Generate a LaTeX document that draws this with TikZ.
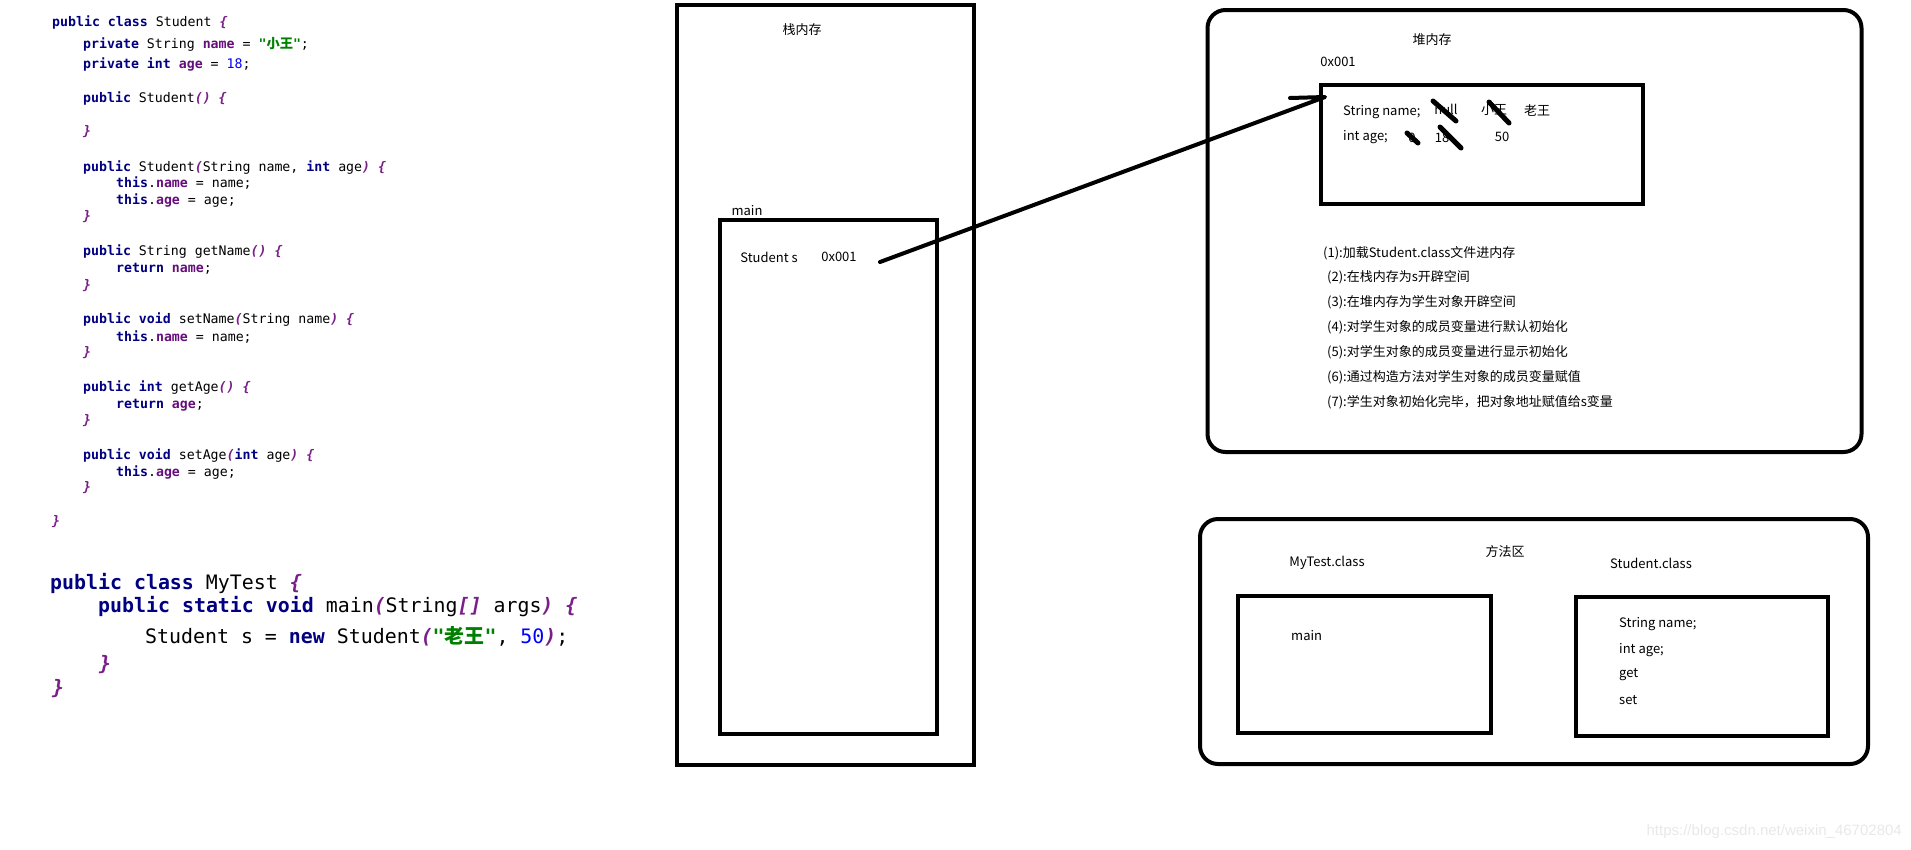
\documentclass[tikz,border=0pt]{standalone}
\usepackage{fontspec}
\setmainfont{Noto Sans CJK SC}
\newfontfamily\codefont{DejaVu Sans Mono}[Ligatures=TeXOff]
\newfontfamily\cjkfont{Noto Sans CJK SC}
\newfontfamily\wmfont{Liberation Sans}

\definecolor{kwblue}{HTML}{000080}
\definecolor{fieldpurple}{HTML}{660E7A}
\definecolor{strgreen}{HTML}{008000}
\definecolor{numblue}{HTML}{0000FF}
\definecolor{brkpurple}{HTML}{7A1F8A}
\definecolor{wmgray}{HTML}{E8E8E8}

\newcommand\kw[1]{{\color{kwblue}\bfseries #1}}
\newcommand\fd[1]{{\color{fieldpurple}\bfseries #1}}
\newcommand\jstr[1]{{\color{strgreen}\bfseries #1}}
\newcommand\jnum[1]{{\color{numblue}#1}}
\newcommand\jbr[1]{{\color{brkpurple}\bfseries\itshape #1}}

\begin{document}
\begin{tikzpicture}[x=1pt,y=-1pt,
	box/.style={draw,line width=4.5pt,inner sep=0pt,outer sep=0pt},
	area/.style={draw,line width=4pt,rounded corners=18pt,inner sep=0pt,outer sep=0pt},
	lbl/.style={font=\fontsize{13}{15}\selectfont,inner sep=0pt},
	codeS/.style={anchor=base west,inner sep=0pt,font=\codefont\fontsize{13.24}{15}\selectfont},
	codeL/.style={anchor=base west,inner sep=0pt,font=\codefont\fontsize{19.9}{22}\selectfont},
	wire/.style={line width=4pt,line cap=round,line join=round},
	strike/.style={line width=5pt,line cap=round}]
	\useasboundingbox (0,0) rectangle (1911,849);

	% Student.java
	\node[codeS] (c1) at (52,26.6) {\kw{public class} Student \jbr{\{}};
	\node[codeS] (c2) at (83,48.6) {\kw{private} String \fd{name} = \jstr{"{\cjkfont 小王}"};};
	\node[codeS] (c3) at (83,68.6) {\kw{private int} \fd{age} = \jnum{18};};
	\node[codeS] (c4) at (83,102.6) {\kw{public} Student\jbr{()} \jbr{\{}};
	\node[codeS] (c5) at (83,135.6) {\jbr{\}}};
	\node[codeS] (c6) at (83,171.6) {\kw{public} Student\jbr{(}String name, \kw{int} age\jbr{)} \jbr{\{}};
	\node[codeS] (c7) at (116,187.6) {\kw{this}.\fd{name} = name;};
	\node[codeS] (c8) at (116,204.6) {\kw{this}.\fd{age} = age;};
	\node[codeS] (c9) at (83,220.6) {\jbr{\}}};
	\node[codeS] (c10) at (83,255.6) {\kw{public} String getName\jbr{()} \jbr{\{}};
	\node[codeS] (c11) at (116,272.6) {\kw{return} \fd{name};};
	\node[codeS] (c12) at (83,289.6) {\jbr{\}}};
	\node[codeS] (c13) at (83,323.6) {\kw{public void} setName\jbr{(}String name\jbr{)} \jbr{\{}};
	\node[codeS] (c14) at (116,341.6) {\kw{this}.\fd{name} = name;};
	\node[codeS] (c15) at (83,356.6) {\jbr{\}}};
	\node[codeS] (c16) at (83,391.6) {\kw{public int} getAge\jbr{()} \jbr{\{}};
	\node[codeS] (c17) at (116,408.6) {\kw{return} \fd{age};};
	\node[codeS] (c18) at (83,424.6) {\jbr{\}}};
	\node[codeS] (c19) at (83,459.6) {\kw{public void} setAge\jbr{(}\kw{int} age\jbr{)} \jbr{\{}};
	\node[codeS] (c20) at (116,476.6) {\kw{this}.\fd{age} = age;};
	\node[codeS] (c21) at (83,491.6) {\jbr{\}}};
	\node[codeS] (c22) at (52,525.6) {\jbr{\}}};

	% MyTest.java
	\node[codeL] (m1) at (50,589) {\kw{public class} MyTest \jbr{\{}};
	\node[codeL] (m2) at (98,612) {\kw{public static void} main\jbr{(}String\jbr{[]} args\jbr{)} \jbr{\{}};
	\node[codeL] (m3) at (145,643) {Student s = \kw{new} Student\jbr{(}\jstr{"{\cjkfont 老王}"}, \jnum{50}\jbr{)};};
	\node[codeL] (m4) at (99,670) {\jbr{\}}};
	\node[codeL] (m5) at (52,694) {\jbr{\}}};

	% stack
	\node[box,minimum width=297pt,minimum height=760pt] (stack) at (825.5,385) {};
	\node[box,minimum width=217pt,minimum height=514pt] (frame) at (828.5,477) {};
	\node[lbl] (stacktitle) at (802,30) {栈内存};
	\node[lbl] (framename) at (747,211) {main};
	\node[lbl] (svar) at (769,257) {Student s};
	\node[lbl] (sval) at (839,257) {0x001};

	% heap
	\node[area,minimum width=654pt,minimum height=442pt] (heap) at (1534.5,231) {};
	\node[box,minimum width=322pt,minimum height=119pt] (obj) at (1482,144.5) {};
	\node[lbl] (heaptitle) at (1432,40) {堆内存};
	\node[lbl] (addr) at (1338,62) {0x001};
	\node[lbl,anchor=west] (fname) at (1343,112) {String name;};
	\node[lbl,anchor=west] (fage) at (1343,137) {int age;};
	\node[lbl] (vnull) at (1446,109) {null};
	\node[lbl] (vxw) at (1494,110) {小王};
	\node[lbl] (vlw) at (1537,110) {老王};
	\node[lbl] (vzero) at (1412,138) {0};
	\node[lbl] (veight) at (1442,138) {18};
	\node[lbl] (vfifty) at (1502,137) {50};
	\draw[strike] (1433,101) -- (1456,121);
	\draw[strike] (1489,102) -- (1509,123);
	\draw[strike] (1407,133) -- (1418,143);
	\draw[strike] (1440,127) -- (1461,148);

	\node[lbl,anchor=west] (s1) at (1323,253) {(1):加载Student.class文件进内存};
	\node[lbl,anchor=west] (s2) at (1327,277) {(2):在栈内存为s开辟空间};
	\node[lbl,anchor=west] (s3) at (1327,302) {(3):在堆内存为学生对象开辟空间};
	\node[lbl,anchor=west] (s4) at (1327,327) {(4):对学生对象的成员变量进行默认初始化};
	\node[lbl,anchor=west] (s5) at (1327,352) {(5):对学生对象的成员变量进行显示初始化};
	\node[lbl,anchor=west] (s6) at (1327,377) {(6):通过构造方法对学生对象的成员变量赋值};
	\node[lbl,anchor=west] (s7) at (1327,402) {(7):学生对象初始化完毕，把对象地址赋值给s变量};

	% pointer
	\coordinate (ptrtail) at (880,262);
	\coordinate (ptrtip) at (1325,97);
	\draw[wire] (ptrtail) -- (ptrtip) -- ++(-35,1);

	% method area
	\node[area,minimum width=668pt,minimum height=245pt] (method) at (1534,641.5) {};
	\node[box,minimum width=253pt,minimum height=137pt] (testcls) at (1364.5,664.5) {};
	\node[box,minimum width=252pt,minimum height=139pt] (stucls) at (1702,666.5) {};
	\node[lbl] (methodtitle) at (1505,552) {方法区};
	\node[lbl] (testname) at (1327,563) {MyTest.class};
	\node[lbl] (stuname) at (1651,563) {Student.class};
	\node[lbl,anchor=west] (tmain) at (1291,636) {main};
	\node[lbl,anchor=west] (mname) at (1619,624) {String name;};
	\node[lbl,anchor=west] (mage) at (1619,650) {int age;};
	\node[lbl,anchor=west] (mget) at (1619,675) {get};
	\node[lbl,anchor=west] (mset) at (1619,700) {set};

	\node[anchor=east,inner sep=0pt,text=wmgray,font=\wmfont\fontsize{15}{17}\selectfont] (mark) at (1902,832) {https://blog.csdn.net/weixin\_46702804};
\end{tikzpicture}
\end{document}
